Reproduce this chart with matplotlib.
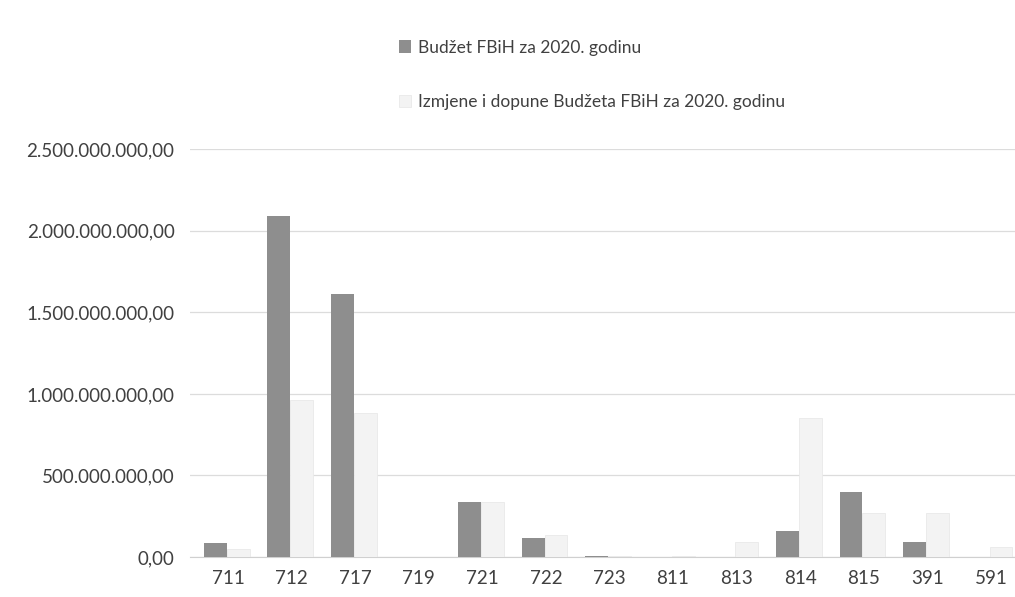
import matplotlib.pyplot as plt
import numpy as np
from matplotlib.ticker import FuncFormatter

plt.rcParams['font.family'] = ['Lato', 'DejaVu Sans']

kategorije = ['711', '712', '717', '719', '721', '722', '723', '811', '813', '814', '815', '391', '591']
budzet = [86e6, 2.09e9, 1.61e9, 0, 337e6, 116e6, 6e6, 0, 0, 160e6, 398e6, 92e6, 0]
izmjene = [50e6, 960e6, 880e6, 0, 340e6, 135e6, 4e6, 4e6, 90e6, 850e6, 270e6, 270e6, 60e6]
y_ticks = [0, 5e8, 1e9, 1.5e9, 2e9, 2.5e9]


def fmt(v, pos):
    s = '{:,.2f}'.format(v)
    return s.replace(',', 'X').replace('.', ',').replace('X', '.')


fig = plt.figure(figsize=(10.15, 5.97), dpi=100)
ax = fig.add_axes([0.187, 0.067, 0.813, 0.683])

x = np.arange(len(kategorije))
w = 0.36
ax.bar(x - w / 2 - 0.02, budzet, w, color='#8e8e8e', label='Budžet FBiH za 2020. godinu', zorder=3)
ax.bar(x + w / 2 - 0.02, izmjene, w, color='#f3f3f3', edgecolor='#e9e9e9', linewidth=0.6,
       label='Izmjene i dopune Budžeta FBiH za 2020. godinu', zorder=3)

ax.set_ylim(0, 2.5e9)
ax.set_xlim(-0.6, 12.38)
ax.set_yticks(y_ticks)
ax.yaxis.set_major_formatter(FuncFormatter(fmt))
ax.set_xticks(x)
ax.set_xticklabels(kategorije)
ax.grid(axis='y', color='#dcdcdc', linewidth=0.9, zorder=0)
for s in ['top', 'right', 'left']:
    ax.spines[s].set_visible(False)
ax.spines['bottom'].set_color('#d0d0d0')
ax.tick_params(axis='both', length=0, colors='#404040', labelsize=13.5)
ax.tick_params(axis='x', pad=9)
ax.tick_params(axis='y', pad=11)

fig.legend(loc='upper left', bbox_to_anchor=(0.378, 0.96), frameon=False,
           fontsize=12.5, labelspacing=2.2, handlelength=0.7, handleheight=0.7,
           handletextpad=0.4, labelcolor='#404040')

fig.savefig('out.png', dpi=100)
